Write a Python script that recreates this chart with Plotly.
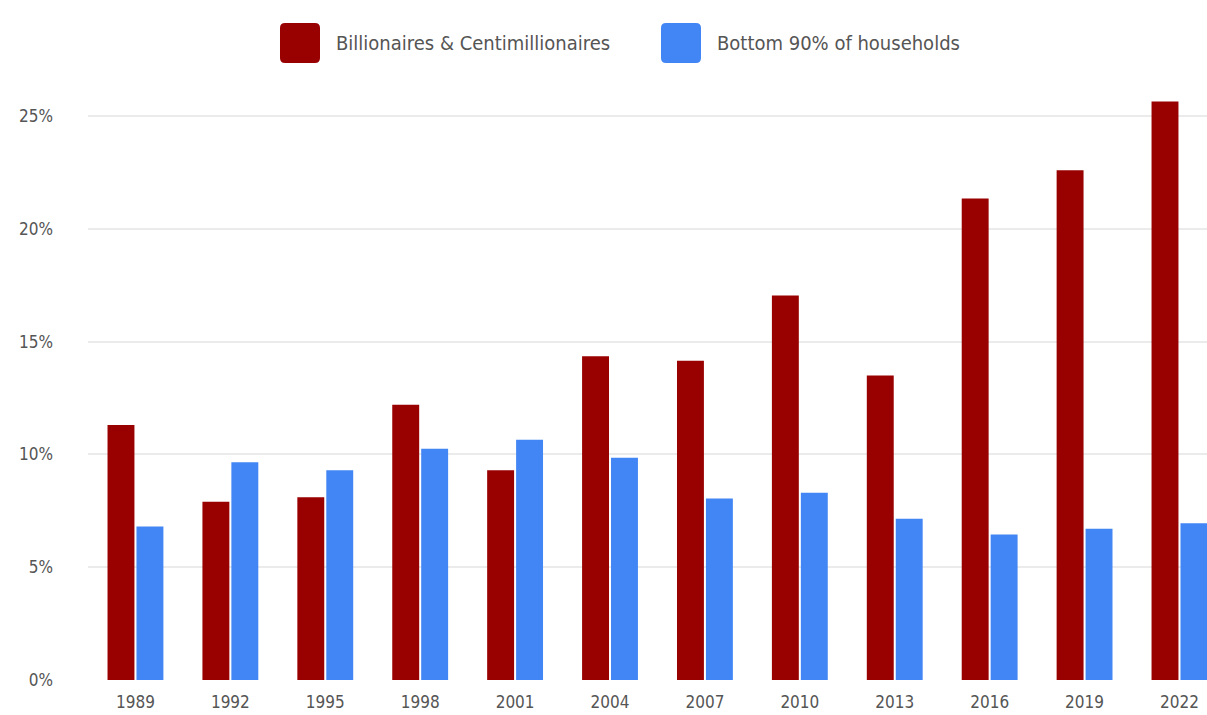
import plotly.graph_objects as go

years = ["1989", "1992", "1995", "1998", "2001", "2004", "2007", "2010", "2013", "2016", "2019", "2022"]
billionaires = [11.3, 7.9, 8.1, 12.2, 9.3, 14.35, 14.15, 17.05, 13.5, 21.35, 22.6, 25.65]
bottom90 = [6.8, 9.65, 9.3, 10.25, 10.65, 9.85, 8.05, 8.3, 7.15, 6.45, 6.7, 6.95]
series_names = ["Billionaires & Centimillionaires", "Bottom 90% of households"]
colors = ["#990000", "#4285F4"]
y_tickvals = [0, 5, 10, 15, 20, 25]
y_ticktext = ["0%", "5%", "10%", "15%", "20%", "25%"]

W, H = 1207, 715
ML, MR, MT, MB = 88, 0, 89, 35
FONT = "DejaVu Sans Condensed, Liberation Sans Narrow, Arial Narrow, sans-serif"

fig = go.Figure()
for name, vals, col in zip(series_names, [billionaires, bottom90], colors):
    fig.add_trace(go.Bar(x=years, y=vals, name=name, marker_color=col,
                         marker_line_width=0, showlegend=False))

# custom legend (big rounded swatches)
pw, ph = W - ML - MR, H - MT - MB
def px_x(p):
    return (p - ML) / pw
def px_y(p):
    return (H - MB - p) / ph

def rounded_rect(l, t, r, b, rad=5):
    X = lambda p: f"{px_x(p):.5f}"
    Y = lambda p: f"{px_y(p):.5f}"
    return (f"M {X(l+rad)},{Y(t)} L {X(r-rad)},{Y(t)} Q {X(r)},{Y(t)} {X(r)},{Y(t+rad)} "
            f"L {X(r)},{Y(b-rad)} Q {X(r)},{Y(b)} {X(r-rad)},{Y(b)} "
            f"L {X(l+rad)},{Y(b)} Q {X(l)},{Y(b)} {X(l)},{Y(b-rad)} "
            f"L {X(l)},{Y(t+rad)} Q {X(l)},{Y(t)} {X(l+rad)},{Y(t)} Z")

legend_items = [(280, 334, series_names[0], colors[0]), (661, 715, series_names[1], colors[1])]
shapes = []
annotations = []
for sx, tx, name, col in legend_items:
    shapes.append(dict(type="path", xref="paper", yref="paper",
                       path=rounded_rect(sx, 23, sx + 40, 63),
                       fillcolor=col, line=dict(width=0), layer="above"))
    annotations.append(dict(xref="paper", yref="paper", x=px_x(tx), y=px_y(43), text=name,
                            showarrow=False, xanchor="left", yanchor="middle",
                            font=dict(family=FONT, size=20, color="#555555")))

fig.update_layout(
    width=W, height=H,
    margin=dict(l=ML, r=MR, t=MT, b=MB),
    paper_bgcolor="white", plot_bgcolor="white",
    barmode="group", bargap=0.39, bargroupgap=0.07,
    font=dict(family=FONT, color="#666666", size=17),
    shapes=shapes, annotations=annotations,
    xaxis=dict(range=[-0.5, 11.29], showgrid=False, showline=False, zeroline=False,
               tickfont=dict(size=17, color="#555555"), ticks="",
               ticklabelstandoff=10),
    yaxis=dict(range=[0, 26.2], tickmode="array", tickvals=y_tickvals, ticktext=y_ticktext,
               showgrid=True, gridcolor="#ebebeb", gridwidth=2, zeroline=False,
               showline=False, tickfont=dict(size=17, color="#555555"),
               ticklabelstandoff=34),
)

fig.write_html("out.html")
